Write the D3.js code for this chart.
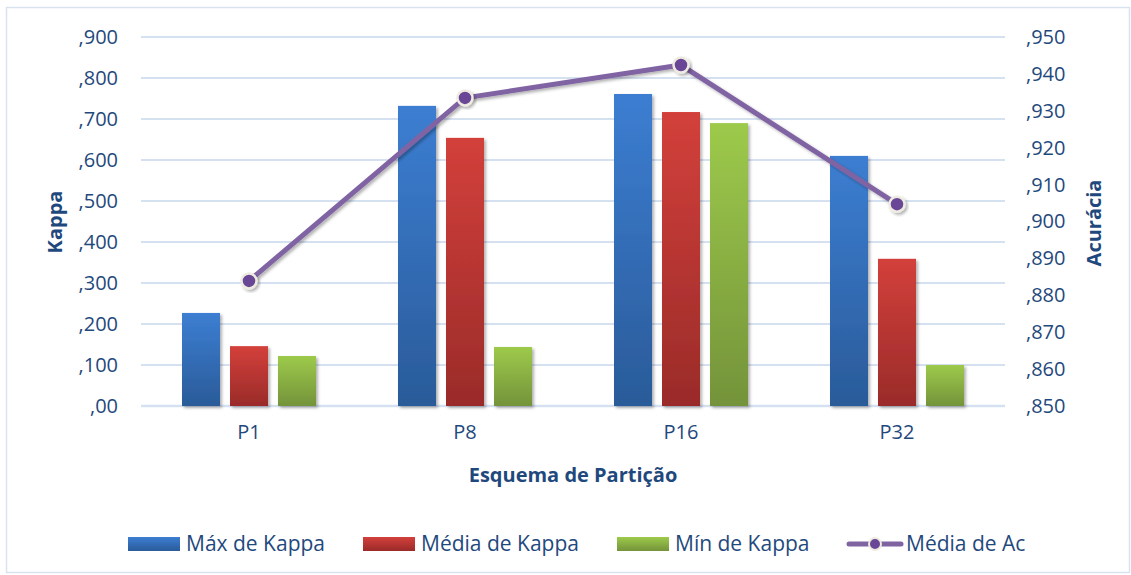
<!DOCTYPE html>
<html>
<head>
<meta charset="utf-8">
<script src="https://cdn.jsdelivr.net/npm/d3@7"></script>
<style>
  body { margin: 0; background: #fff; }
  svg { display: block; font-family: "Open Sans", "Noto Sans", sans-serif; }
</style>
</head>
<body>
<svg id="chart"></svg>
<script>
// Categories and series
const categories = ["P1", "P8", "P16", "P32"];
const seriesNames = ["Máx de Kappa", "Média de Kappa", "Mín de Kappa"];
const maxKappa = [0.227, 0.732, 0.761, 0.610];
const mediaKappa = [0.146, 0.654, 0.717, 0.359];
const minKappa = [0.122, 0.144, 0.690, 0.100];
const mediaAc = [0.8839, 0.9335, 0.9424, 0.9047];
const leftTicks = [0, 0.1, 0.2, 0.3, 0.4, 0.5, 0.6, 0.7, 0.8, 0.9];
const rightTicks = [0.85, 0.86, 0.87, 0.88, 0.89, 0.90, 0.91, 0.92, 0.93, 0.94, 0.95];

const width = 1131, height = 575;
const textColor = "#1F497D";

// Bar colours: [top, bottom] of the gradient
const barColors = [
    ["#3C7ED2", "#2A5B99"],
    ["#D3403B", "#9A2B29"],
    ["#9DCA4B", "#74933A"]
];

const svg = d3.select("#chart")
    .attr("width", width)
    .attr("height", height);

const defs = svg.append("defs");

barColors.forEach((c, i) => {
    const g = defs.append("linearGradient")
        .attr("id", "grad" + i)
        .attr("x1", 0).attr("y1", 0).attr("x2", 0).attr("y2", 1);
    g.append("stop").attr("offset", "0%").attr("stop-color", c[0]);
    g.append("stop").attr("offset", "100%").attr("stop-color", c[1]);
});

defs.append("filter")
    .attr("id", "shadow")
    .attr("x", "-20%").attr("y", "-20%").attr("width", "150%").attr("height", "150%")
    .append("feDropShadow")
    .attr("dx", 2).attr("dy", 2).attr("stdDeviation", 1.5)
    .attr("flood-color", "#000").attr("flood-opacity", 0.3);

// Outer border
svg.append("rect")
    .attr("x", 6.5).attr("y", 7.5)
    .attr("width", width - 8).attr("height", height - 10)
    .attr("fill", "none")
    .attr("stroke", "#D9E3F0")
    .attr("stroke-width", 1.5);

// Scales
const x0 = d3.scaleBand()
    .domain(categories)
    .range([141, 1005]);

const x1 = d3.scaleBand()
    .domain(seriesNames)
    .range([0, 134])
    .paddingInner(0.208);

const yLeft = d3.scaleLinear().domain([0, 0.9]).range([406, 37]);
const yRight = d3.scaleLinear().domain([0.85, 0.95]).range([406, 37]);

// Gridlines
svg.append("g")
    .selectAll("line")
    .data(leftTicks)
    .enter()
    .append("line")
    .attr("x1", 141).attr("x2", 1005)
    .attr("y1", d => yLeft(d)).attr("y2", d => yLeft(d))
    .attr("stroke", "#D5E1F1")
    .attr("stroke-width", d => d === 0 ? 2.5 : 2);

// Tick label formats (Portuguese style, leading comma)
const leftFmt = d => d === 0 ? ",00" : "," + d3.format(".3f")(d).split(".")[1];
const rightFmt = d => "," + d3.format(".3f")(d).split(".")[1];

const styleTicks = g => g.selectAll("text")
    .attr("fill", textColor)
    .style("font-size", "20px")
    .style("font-family", "'Open Sans', sans-serif");

svg.append("g")
    .attr("transform", "translate(118,0)")
    .call(d3.axisLeft(yLeft).tickValues(leftTicks).tickFormat(leftFmt).tickSize(0).tickPadding(0))
    .call(g => g.select(".domain").remove())
    .call(styleTicks);

svg.append("g")
    .attr("transform", "translate(1026,0)")
    .call(d3.axisRight(yRight).tickValues(rightTicks).tickFormat(rightFmt).tickSize(0).tickPadding(0))
    .call(g => g.select(".domain").remove())
    .call(styleTicks);

// X axis labels
svg.append("g")
    .attr("transform", "translate(0,425)")
    .call(d3.axisBottom(x0).tickSize(0).tickPadding(0))
    .call(g => g.select(".domain").remove())
    .call(styleTicks);

// Axis titles
svg.append("text")
    .attr("x", 573).attr("y", 482)
    .attr("text-anchor", "middle")
    .attr("fill", textColor)
    .style("font-size", "20px")
    .style("font-weight", "bold")
    .text("Esquema de Partição");

svg.append("text")
    .attr("transform", "translate(62,222) rotate(-90)")
    .attr("text-anchor", "middle")
    .attr("fill", textColor)
    .style("font-size", "20px")
    .style("font-weight", "bold")
    .text("Kappa");

svg.append("text")
    .attr("transform", "translate(1101,223) rotate(-90)")
    .attr("text-anchor", "middle")
    .attr("fill", textColor)
    .style("font-size", "20px")
    .style("font-weight", "bold")
    .text("Acurácia");

// Bars
const barData = categories.map((c, i) => ({
    cat: c,
    values: [maxKappa[i], mediaKappa[i], minKappa[i]]
}));

const groups = svg.append("g")
    .selectAll("g")
    .data(barData)
    .enter()
    .append("g")
    .attr("transform", d => `translate(${x0(d.cat) + x0.bandwidth() / 2 - 67},0)`);

groups.selectAll("rect")
    .data(d => d.values.map((v, j) => ({ name: seriesNames[j], value: v, j })))
    .enter()
    .append("rect")
    .attr("x", d => x1(d.name))
    .attr("width", x1.bandwidth())
    .attr("y", d => yLeft(d.value))
    .attr("height", d => yLeft(0) - yLeft(d.value))
    .attr("fill", d => `url(#grad${d.j})`)
    .attr("filter", "url(#shadow)");

// Line
const lineData = categories.map((c, i) => ({ cat: c, value: mediaAc[i] }));
const line = d3.line()
    .x(d => x0(d.cat) + x0.bandwidth() / 2)
    .y(d => yRight(d.value));

svg.append("path")
    .datum(lineData)
    .attr("d", line)
    .attr("fill", "none")
    .attr("stroke", "#8064A2")
    .attr("stroke-width", 5)
    .attr("stroke-linejoin", "round")
    .attr("filter", "url(#shadow)");

svg.append("g")
    .selectAll("circle")
    .data(lineData)
    .enter()
    .append("circle")
    .attr("cx", d => x0(d.cat) + x0.bandwidth() / 2)
    .attr("cy", d => yRight(d.value))
    .attr("r", 7.5)
    .attr("fill", "#6A4796")
    .attr("stroke", "#EEEBE1")
    .attr("stroke-width", 2.5)
    .attr("filter", "url(#shadow)");

// Legend
const legendY = 544;
const legendItems = [
    { name: "Máx de Kappa", x: 128, type: "bar", j: 0 },
    { name: "Média de Kappa", x: 363, type: "bar", j: 1 },
    { name: "Mín de Kappa", x: 617, type: "bar", j: 2 },
    { name: "Média de Ac", x: 847, type: "line" }
];

const legend = svg.append("g")
    .selectAll("g")
    .data(legendItems)
    .enter()
    .append("g")
    .attr("transform", d => `translate(${d.x},${legendY})`);

legend.filter(d => d.type === "bar")
    .append("rect")
    .attr("x", 0).attr("y", -7)
    .attr("width", 52).attr("height", 14)
    .attr("fill", d => `url(#grad${d.j})`);

const lineLegend = legend.filter(d => d.type === "line");
lineLegend.append("line")
    .attr("x1", 2).attr("x2", 54)
    .attr("y1", 0).attr("y2", 0)
    .attr("stroke", "#8064A2")
    .attr("stroke-width", 5)
    .attr("stroke-linecap", "round");
lineLegend.append("circle")
    .attr("cx", 28).attr("cy", 0).attr("r", 6)
    .attr("fill", "#6A4796")
    .attr("stroke", "#EEEBE1")
    .attr("stroke-width", 2);

legend.append("text")
    .attr("x", d => d.type === "line" ? 59 : 58)
    .attr("y", 0)
    .attr("dy", "0.35em")
    .attr("fill", textColor)
    .style("font-size", "21px")
    .text(d => d.name);
</script>
</body>
</html>
